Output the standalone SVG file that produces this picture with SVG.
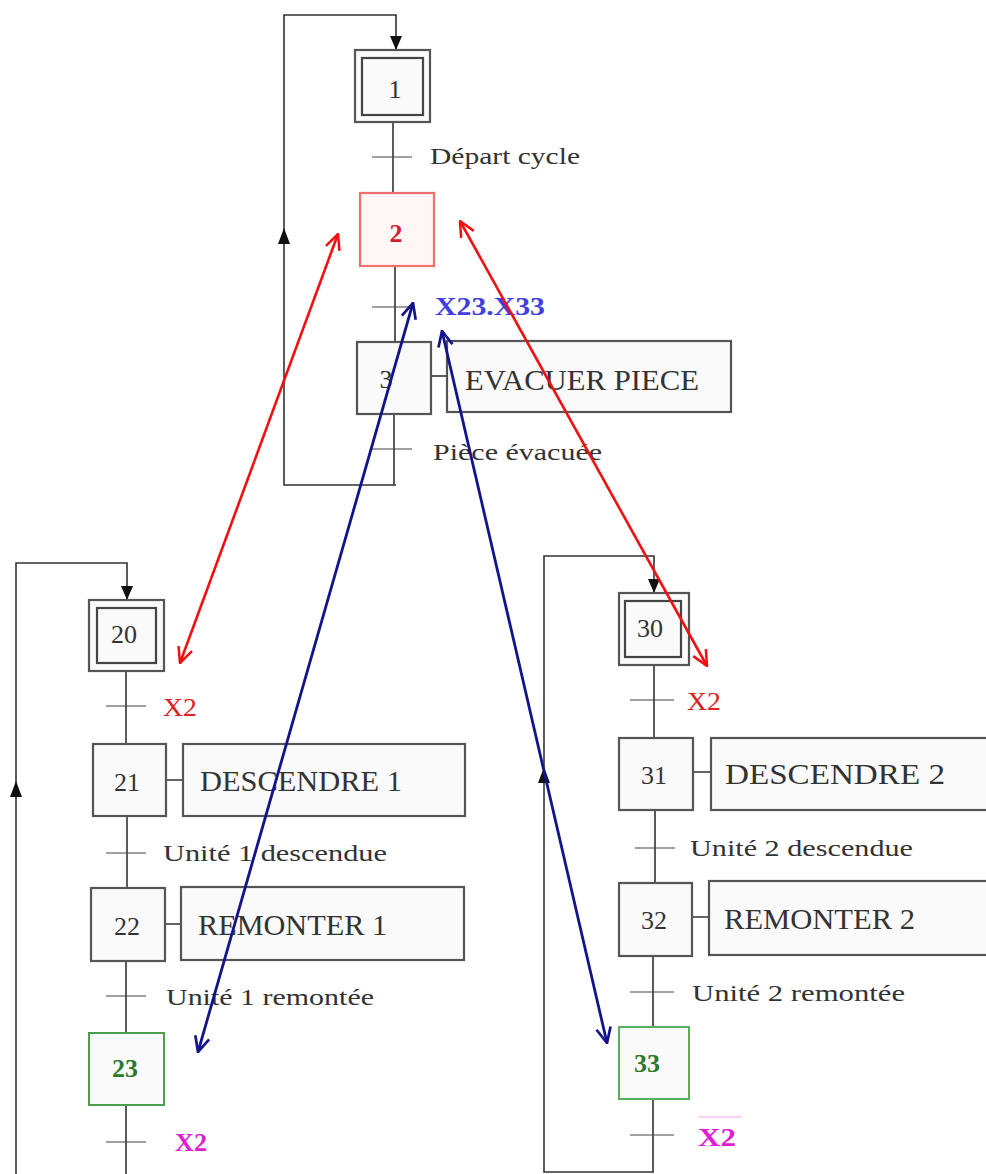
<svg xmlns="http://www.w3.org/2000/svg" width="986" height="1174" viewBox="0 0 986 1174">
<defs>
<style>
.ln{stroke:#333;stroke-width:1.6;fill:none}
.tr{stroke:#444;stroke-width:1.2;fill:none}
.box{fill:#fafafa;stroke:#555;stroke-width:2.2}
.inner{fill:#fafafa;stroke:#444;stroke-width:2.2}
.num{font-family:"Liberation Serif",serif;font-size:26px;fill:#333;text-anchor:middle}
.act{font-family:"Liberation Serif",serif;font-size:30px;fill:#333}
.lab{font-family:"Liberation Serif",serif;font-size:24px;fill:#333}
.red{stroke:#f01010;stroke-width:2.6;fill:none}
.blue{stroke:#14148a;stroke-width:2.8;fill:none}
</style>
<marker id="vr" viewBox="0 0 20 20" refX="19" refY="10" markerWidth="18" markerHeight="18" orient="auto-start-reverse" markerUnits="userSpaceOnUse">
<path d="M2,2 L19,10 L2,18" fill="none" stroke="#f01010" stroke-width="2.8"/>
</marker>
<marker id="vb" viewBox="0 0 20 20" refX="19" refY="10" markerWidth="18" markerHeight="18" orient="auto-start-reverse" markerUnits="userSpaceOnUse">
<path d="M2,2 L19,10 L2,18" fill="none" stroke="#14148a" stroke-width="3"/>
</marker>
</defs>
<rect width="986" height="1174" fill="#fff"/>

<g id="connectors">
<path class="ln" d="M396,485 L284,485 L284,15 L396,15 L396,50"/>
<path d="M390,36 L402,36 L396,50 z" fill="#111"/>
<path d="M278,244 L290,244 L284,228 z" fill="#111"/>
<path class="ln" d="M393,122 L393,193"/>
<path class="ln" d="M395,266 L395,342"/>
<path class="ln" d="M394,414 L394,485"/>
<path class="tr" d="M372,157 L412,157 M372,307 L412,307 M372,449 L412,449"/>
<path class="ln" d="M431,376 L447,376"/>
<path class="ln" d="M16,1174 L16,563 L127,563 L127,600"/>
<path d="M121,586 L133,586 L127,600 z" fill="#111"/>
<path d="M10,797 L22,797 L16,781 z" fill="#111"/>
<path class="ln" d="M126,671 L126,744 M127,816 L127,888 M126,961 L126,1033 M126,1105 L126,1174"/>
<path class="tr" d="M106,706 L146,706 M106,853 L146,853 M106,996 L146,996 M106,1142 L146,1142"/>
<path class="ln" d="M166,780 L183,780 M165,924 L181,924"/>
<path class="ln" d="M654,1172 L544,1172 L544,556 L654,556 L654,593"/>
<path d="M648,579 L660,579 L654,593 z" fill="#111"/>
<path d="M538,783 L550,783 L544,767 z" fill="#111"/>
<path class="ln" d="M654,665 L654,738 M655,810 L655,882 M653,956 L653,1027 M653,1099 L653,1172"/>
<path class="tr" d="M630,700 L674,700 M635,848 L675,848 M630,992 L674,992 M630,1135 L674,1135"/>
<path class="ln" d="M693,772 L711,772 M692,917 L709,917"/>
</g>

<g id="step1">
<rect class="box" x="355" y="50" width="75" height="72"/>
<rect class="inner" x="362" y="58" width="61" height="57"/>
<text class="num" x="395" y="98">1</text>
</g>
<g id="t1"><text class="lab" x="430" y="164" textLength="150" lengthAdjust="spacingAndGlyphs">Départ cycle</text></g>
<g id="step2">
<rect x="360" y="193" width="74" height="73" fill="#fff6f6" stroke="#f07070" stroke-width="2.2"/>
<text class="num" x="396" y="242" style="fill:#d02030;font-weight:bold">2</text>
</g>
<g id="t2"><text x="435" y="315" font-family="Liberation Serif,serif" font-size="25" font-weight="bold" fill="#4040e0" textLength="110" lengthAdjust="spacingAndGlyphs">X23.X33</text></g>
<g id="step3">
<rect class="box" x="357" y="342" width="74" height="72"/>
<text class="num" x="386" y="388">3</text>
<rect class="box" x="447" y="341" width="284" height="71"/>
<text class="act" x="465" y="390" textLength="234" lengthAdjust="spacingAndGlyphs">EVACUER PIECE</text>
</g>
<g id="t3"><text class="lab" x="433" y="460" textLength="169" lengthAdjust="spacingAndGlyphs">Pièce évacuée</text></g>

<g id="step20">
<rect class="box" x="89" y="600" width="75" height="71"/>
<rect class="inner" x="97" y="608" width="59" height="55"/>
<text class="num" x="124" y="643">20</text>
</g>
<g id="t20"><text x="163" y="716" font-family="Liberation Serif,serif" font-size="25" fill="#e02020" textLength="34" lengthAdjust="spacingAndGlyphs">X2</text></g>
<g id="step21">
<rect class="box" x="93" y="744" width="73" height="72"/>
<text class="num" x="127" y="791">21</text>
<rect class="box" x="183" y="744" width="282" height="72"/>
<text class="act" x="200" y="791" textLength="202" lengthAdjust="spacingAndGlyphs">DESCENDRE 1</text>
</g>
<g id="t21"><text class="lab" x="163" y="861" textLength="224" lengthAdjust="spacingAndGlyphs">Unité 1 descendue</text></g>
<g id="step22">
<rect class="box" x="91" y="888" width="74" height="73"/>
<text class="num" x="127" y="935">22</text>
<rect class="box" x="181" y="887" width="283" height="73"/>
<text class="act" x="198" y="935" textLength="189" lengthAdjust="spacingAndGlyphs">REMONTER 1</text>
</g>
<g id="t22"><text class="lab" x="166" y="1005" textLength="208" lengthAdjust="spacingAndGlyphs">Unité 1 remontée</text></g>
<g id="step23">
<rect x="89" y="1033" width="75" height="72" fill="#fafafa" stroke="#4aa04a" stroke-width="2"/>
<text class="num" x="125" y="1077" style="fill:#2a7a2a;font-weight:bold">23</text>
</g>
<g id="t23"><text x="175" y="1151" font-family="Liberation Serif,serif" font-size="25" font-weight="bold" fill="#e020d0" textLength="32" lengthAdjust="spacingAndGlyphs">X2</text></g>

<g id="step30">
<rect class="box" x="619" y="593" width="70" height="72"/>
<rect class="inner" x="625" y="601" width="56" height="56"/>
<text class="num" x="650" y="637">30</text>
</g>
<g id="t30"><text x="687" y="710" font-family="Liberation Serif,serif" font-size="25" fill="#e02020" textLength="34" lengthAdjust="spacingAndGlyphs">X2</text></g>
<g id="step31">
<rect class="box" x="619" y="738" width="74" height="72"/>
<text class="num" x="654" y="784">31</text>
<rect class="box" x="711" y="738" width="285" height="72"/>
<text class="act" x="725" y="784" textLength="220" lengthAdjust="spacingAndGlyphs">DESCENDRE 2</text>
</g>
<g id="t31"><text class="lab" x="690" y="856" textLength="223" lengthAdjust="spacingAndGlyphs">Unité 2 descendue</text></g>
<g id="step32">
<rect class="box" x="619" y="883" width="73" height="73"/>
<text class="num" x="654" y="929">32</text>
<rect class="box" x="709" y="881" width="287" height="74"/>
<text class="act" x="724" y="929" textLength="191" lengthAdjust="spacingAndGlyphs">REMONTER 2</text>
</g>
<g id="t32"><text class="lab" x="692" y="1001" textLength="213" lengthAdjust="spacingAndGlyphs">Unité 2 remontée</text></g>
<g id="step33">
<rect x="619" y="1027" width="70" height="72" fill="#fafafa" stroke="#5ab05a" stroke-width="2"/>
<text class="num" x="647" y="1072" style="fill:#2a7a2a;font-weight:bold">33</text>
</g>
<g id="t33">
<line x1="698" y1="1117" x2="742" y2="1117" stroke="#f0a0f0" stroke-width="1.2"/>
<text x="698" y="1146" font-family="Liberation Serif,serif" font-size="25" font-weight="bold" fill="#e020d0" textLength="38" lengthAdjust="spacingAndGlyphs">X2</text>
</g>

<g id="links">
<line class="red" x1="338" y1="234" x2="180" y2="663" marker-start="url(#vr)" marker-end="url(#vr)"/>
<line class="red" x1="460" y1="221" x2="707" y2="666" marker-start="url(#vr)" marker-end="url(#vr)"/>
<line class="blue" x1="413" y1="303" x2="198" y2="1052" marker-start="url(#vb)" marker-end="url(#vb)"/>
<line class="blue" x1="442" y1="331" x2="607" y2="1043" marker-start="url(#vb)" marker-end="url(#vb)"/>
</g>
</svg>
